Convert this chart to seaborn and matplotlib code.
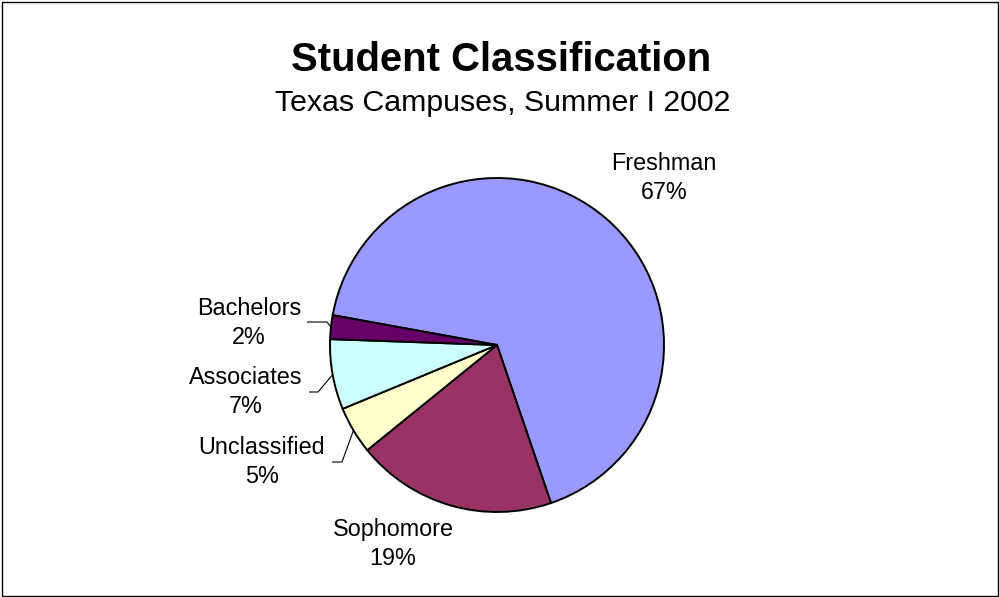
import numpy as np
import matplotlib
matplotlib.use("Agg")
import matplotlib.pyplot as plt
from matplotlib.patches import Rectangle
import seaborn as sns

# ---- data ----
categories = ["Freshman", "Sophomore", "Unclassified", "Associates", "Bachelors"]
values = [66.9, 19.4, 4.6, 6.8, 2.3]
colors = ["#9999FF", "#993366", "#FFFFCC", "#CCFFFF", "#660066"]
title = "Student Classification"
subtitle = "Texas Campuses, Summer I 2002"

sns.set_theme(style="white")
plt.rcParams["font.family"] = ["Liberation Sans", "DejaVu Sans"]

W, H = 999, 597
fig = plt.figure(figsize=(W / 100, H / 100), dpi=100)
ax = fig.add_axes([0, 0, 1, 1])

def py(y):  # pixel-from-top -> data y
    return H - y

cx, cy, R = 497, py(345), 167
wedges, _ = ax.pie(values, colors=colors, startangle=169.7, counterclock=False,
                   center=(cx, cy), radius=R,
                   wedgeprops=dict(edgecolor="black", linewidth=1.4))
ax.set_xlim(0, W)
ax.set_ylim(0, H)
ax.set_aspect("auto")
ax.axis("off")

# label layout (text centre in pixels, leader elbow, leader end)
label_pos = {
    "Freshman": (664, 178),
    "Sophomore": (393, 544),
    "Unclassified": (262, 462),
    "Associates": (246, 392),
    "Bachelors": (249, 323),
}
leaders = {
    "Bachelors": ((307, 322), (327, 322)),
    "Associates": ((309, 392), (318, 392)),
    "Unclassified": ((332, 462), (342, 462)),
}

for w, cat, v in zip(wedges, categories, values):
    x, y = label_pos[cat]
    ax.text(x, py(y), f"{cat}\n{round(v):d}%", ha="center", va="center",
            fontsize=16.8, color="black", linespacing=1.32)
    if cat in leaders:
        mid = np.deg2rad((w.theta1 + w.theta2) / 2)
        ex, ey = cx + R * np.cos(mid), cy + R * np.sin(mid)
        (x0, y0), (x1, y1) = leaders[cat]
        ax.plot([x0, x1, ex], [py(y0), py(y1), ey], color="black", lw=0.8,
                solid_capstyle="butt")

ax.text(501, py(60), title, ha="center", va="center", fontsize=28.8,
        fontweight="bold", color="black")
ax.text(503, py(103), subtitle, ha="center", va="center", fontsize=21.8,
        color="black")

ax.add_patch(Rectangle((1.5, py(595.5)), 996.5, 594, fill=False,
                       edgecolor="black", linewidth=1.0, clip_on=False))

fig.savefig("out.png", dpi=100, facecolor="white")
